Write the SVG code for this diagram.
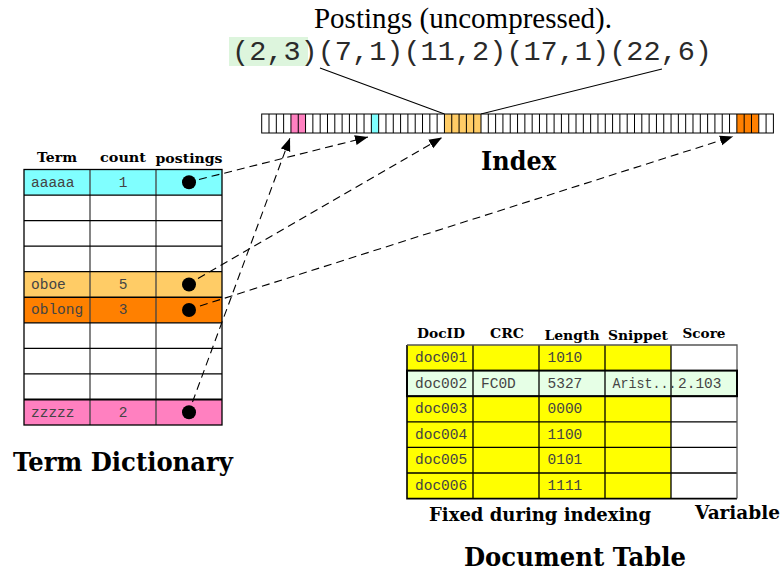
<svg xmlns="http://www.w3.org/2000/svg" width="784" height="574" viewBox="0 0 784 574">
  <style>
    .hdr { font-family: "DejaVu Serif", "Liberation Serif", serif; font-weight: bold; font-size: 13px; fill: #000; }
    .title { font-family: "DejaVu Serif", "Liberation Serif", serif; font-weight: bold; font-size: 26px; fill: #000; }
    .sub { font-family: "DejaVu Serif", "Liberation Serif", serif; font-weight: bold; font-size: 19px; fill: #000; }
    .mono { font-family: "Liberation Mono", "Courier New", monospace; font-size: 14.5px; fill: #444; }
    .grid { fill: none; stroke: #000; stroke-width: 1.3; }
    .vgrid { fill: none; stroke: #444; stroke-width: 1.3; }
    .bullet { fill: #000; }
    .conn { fill: none; stroke: #000; stroke-width: 1.1; stroke-dasharray: 8 5; }
    .cyan { fill: #80ffff; }
    .lorange { fill: #ffcc66; }
    .orange { fill: #ff8000; }
    .pink { fill: #ff80c0; }
    .yellow { fill: #ffff00; }
    .mint { fill: #e6ffe6; }
  </style>
  <defs>
    <marker id="arrow" markerUnits="userSpaceOnUse" markerWidth="14" markerHeight="11" refX="13" refY="5.5" orient="auto">
      <path d="M0,0.5 L13,5.5 L0,10.5 z" fill="#000"/>
    </marker>
  </defs>

  <rect width="784" height="574" fill="#fff"/>

  <!-- postings header -->
  <g id="postings">
    <text x="463" y="28" text-anchor="middle" font-family="'Liberation Serif', 'Times New Roman', serif" font-size="29" fill="#000">Postings (uncompressed).</text>
    <rect x="229" y="37" width="79" height="29" fill="#ddf5dd"/>
    <text x="232" y="60" font-family="'Liberation Mono', 'Courier New', monospace" font-size="28.5" fill="#2a2a2a" textLength="480" lengthAdjust="spacingAndGlyphs">(2,3)(7,1)(11,2)(17,1)(22,6)</text>
    <path d="M320,68 L444.5,114 M662,69 L481,114" fill="none" stroke="#000" stroke-width="1.1"/>
  </g>

  <!-- index bar of 70 cells -->
  <g id="index">
    <rect x="261.7" y="114" width="511.7" height="19" fill="#fff"/>
    <rect x="290.94" y="114" width="14.62" height="19" class="pink"/>
    <rect x="371.35" y="114" width="7.31" height="19" class="cyan"/>
    <rect x="444.45" y="114" width="36.55" height="19" class="lorange"/>
    <rect x="736.85" y="114" width="21.93" height="19" class="orange"/>
    <path fill="none" stroke="#000" stroke-width="1" d="M269.01,114v19M276.32,114v19M283.63,114v19M290.94,114v19M298.25,114v19M305.56,114v19M312.87,114v19M320.18,114v19M327.49,114v19M334.8,114v19M342.11,114v19M349.42,114v19M356.73,114v19M364.04,114v19M371.35,114v19M378.66,114v19M385.97,114v19M393.28,114v19M400.59,114v19M407.9,114v19M415.21,114v19M422.52,114v19M429.83,114v19M437.14,114v19M444.45,114v19M451.76,114v19M459.07,114v19M466.38,114v19M473.69,114v19M481,114v19M488.31,114v19M495.62,114v19M502.93,114v19M510.24,114v19M517.55,114v19M524.86,114v19M532.17,114v19M539.48,114v19M546.79,114v19M554.1,114v19M561.41,114v19M568.72,114v19M576.03,114v19M583.34,114v19M590.65,114v19M597.96,114v19M605.27,114v19M612.58,114v19M619.89,114v19M627.2,114v19M634.51,114v19M641.82,114v19M649.13,114v19M656.44,114v19M663.75,114v19M671.06,114v19M678.37,114v19M685.68,114v19M692.99,114v19M700.3,114v19M707.61,114v19M714.92,114v19M722.23,114v19M729.54,114v19M736.85,114v19M744.16,114v19M751.47,114v19M758.78,114v19M766.09,114v19"/>
    <rect x="261.7" y="114" width="511.7" height="19" fill="none" stroke="#000" stroke-width="1"/>
    <text x="481" y="170" class="title" textLength="75" lengthAdjust="spacingAndGlyphs">Index</text>
  </g>

  <!-- term dictionary -->
  <g id="term-dictionary">
    <text x="57" y="162" text-anchor="middle" class="hdr" textLength="40" lengthAdjust="spacingAndGlyphs">Term</text>
    <text x="123" y="162" text-anchor="middle" class="hdr" textLength="46" lengthAdjust="spacingAndGlyphs">count</text>
    <text x="189" y="163" text-anchor="middle" class="hdr" textLength="67" lengthAdjust="spacingAndGlyphs">postings</text>

    <rect x="24" y="169.5" width="198" height="255.5" fill="#fff"/>
    <rect x="24" y="169.5" width="198" height="25.55" class="cyan"/>
    <rect x="24" y="271.7" width="198" height="25.55" class="lorange"/>
    <rect x="24" y="297.25" width="198" height="25.55" class="orange"/>
    <rect x="24" y="399.45" width="198" height="25.55" class="pink"/>

    <path class="vgrid" d="M90,169.5V425M156,169.5V425"/>
    <path class="grid" d="M24,195.05H222M24,220.6H222M24,246.15H222M24,271.7H222M24,297.25H222M24,322.8H222M24,348.35H222M24,373.9H222"/>
    <path d="M24,399.45H222" fill="none" stroke="#000" stroke-width="2"/>
    <rect x="24" y="169.5" width="198" height="255.5" class="grid"/>

    <text x="31" y="186.5" class="mono">aaaaa</text>
    <text x="123" y="186.5" text-anchor="middle" class="mono">1</text>
    <circle cx="189" cy="182.3" r="7" class="bullet"/>

    <text x="31" y="288.7" class="mono">oboe</text>
    <text x="123" y="288.7" text-anchor="middle" class="mono">5</text>
    <circle cx="189" cy="284.5" r="7" class="bullet"/>

    <text x="31" y="314.3" class="mono">oblong</text>
    <text x="123" y="314.3" text-anchor="middle" class="mono">3</text>
    <circle cx="189" cy="310" r="7" class="bullet"/>

    <text x="31" y="416.5" class="mono">zzzzz</text>
    <text x="123" y="416.5" text-anchor="middle" class="mono">2</text>
    <circle cx="189" cy="412.3" r="7" class="bullet"/>

    <text x="13" y="471" class="title" textLength="220" lengthAdjust="spacingAndGlyphs">Term Dictionary</text>
  </g>

  <!-- document table -->
  <g id="document-table">
    <text x="441" y="338" text-anchor="middle" class="hdr" textLength="48" lengthAdjust="spacingAndGlyphs">DocID</text>
    <text x="507" y="338" text-anchor="middle" class="hdr" textLength="34" lengthAdjust="spacingAndGlyphs">CRC</text>
    <text x="572" y="340" text-anchor="middle" class="hdr" textLength="55" lengthAdjust="spacingAndGlyphs">Length</text>
    <text x="638" y="340" text-anchor="middle" class="hdr" textLength="60" lengthAdjust="spacingAndGlyphs">Snippet</text>
    <text x="704" y="338" text-anchor="middle" class="hdr" textLength="43" lengthAdjust="spacingAndGlyphs">Score</text>

    <rect x="407" y="345" width="330" height="153.6" fill="#fff"/>
    <rect x="407" y="345" width="264" height="153.6" class="yellow"/>
    <rect x="407" y="370.6" width="330" height="25.6" class="mint"/>

    <path class="grid" d="M473,345V498.6M539,345V498.6M605,345V498.6M671,345V498.6"/>
    <path class="grid" d="M407,396.2H737M407,421.8H737M407,447.4H737M407,473H737"/>
    <path d="M407,345V498.6H737" fill="none" stroke="#000" stroke-width="1.6"/>
    <path d="M407,345H737V498.6" fill="none" stroke="#555" stroke-width="1.3"/>
    <rect x="407" y="370.6" width="330" height="25.6" fill="none" stroke="#000" stroke-width="2"/>

    <text x="415" y="362" class="mono">doc001</text>
    <text x="547.5" y="362" class="mono">1010</text>

    <text x="415" y="387.6" class="mono">doc002</text>
    <text x="481" y="387.6" class="mono">FC0D</text>
    <text x="547.5" y="387.6" class="mono">5327</text>
    <text x="612.5" y="387.6" class="mono" textLength="64" lengthAdjust="spacingAndGlyphs">Arist...</text>
    <text x="678" y="387.6" class="mono">2.103</text>

    <text x="415" y="413.2" class="mono">doc003</text>
    <text x="547.5" y="413.2" class="mono">0000</text>
    <text x="415" y="438.8" class="mono">doc004</text>
    <text x="547.5" y="438.8" class="mono">1100</text>
    <text x="415" y="464.4" class="mono">doc005</text>
    <text x="547.5" y="464.4" class="mono">0101</text>
    <text x="415" y="490" class="mono">doc006</text>
    <text x="547.5" y="490" class="mono">1111</text>

    <text x="429" y="521" class="sub" textLength="222" lengthAdjust="spacingAndGlyphs">Fixed during indexing</text>
    <text x="695" y="519" class="sub" textLength="85" lengthAdjust="spacingAndGlyphs">Variable</text>
    <text x="464" y="566" class="title" textLength="222" lengthAdjust="spacingAndGlyphs">Document Table</text>
  </g>

  <!-- dashed pointers from dictionary entries into the index -->
  <g id="connectors">
    <path class="conn" d="M199,179.5 L368,137" marker-end="url(#arrow)"/>
    <path class="conn" d="M198,278.5 L442,137.5" marker-end="url(#arrow)"/>
    <path class="conn" d="M200,306 L733,136.5" marker-end="url(#arrow)"/>
    <path class="conn" d="M192.5,402 L290,138" marker-end="url(#arrow)"/>
  </g>
</svg>
